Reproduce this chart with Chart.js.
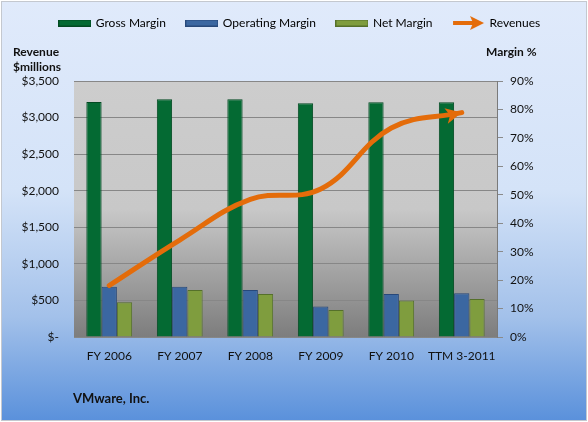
<!DOCTYPE html>
<html><head><meta charset="utf-8">
<script src="https://cdn.jsdelivr.net/npm/chart.js@4.4.1/dist/chart.umd.min.js"></script>
<style>html,body{margin:0;padding:0;background:#fff}</style>
</head><body>
<canvas id="c" width="588" height="422" style="width:588px;height:422px;display:block"></canvas>
<script>
const categories = ['FY 2006', 'FY 2007', 'FY 2008', 'FY 2009', 'FY 2010', 'TTM 3-2011'];
const grossMargin = [82.6, 83.6, 83.6, 82.2, 82.5, 82.5];
const operatingMargin = [17.7, 17.7, 16.5, 10.7, 15.1, 15.4];
const netMargin = [12.2, 16.5, 15.1, 9.5, 12.8, 13.4];
const revenues = [704, 1326, 1881, 2024, 2857, 3068];
const revenueAxis = { min: 0, max: 3500, step: 500 };
const marginAxis = { min: 0, max: 90, step: 10 };
const seriesNames = ['Gross Margin', 'Operating Margin', 'Net Margin', 'Revenues'];

const FONT = 'Lato, "Open Sans", sans-serif';
const COL = {
  gross: ['#046a33', '#024a22'],
  oper: ['#3b67a1', '#27487a'],
  net: ['#7f9d3e', '#55702a'],
  rev: '#e46c0a'
};

function swatch(fill, stroke) {
  const c = document.createElement('canvas');
  c.width = 33; c.height = 7;
  const x = c.getContext('2d');
  x.fillStyle = fill; x.fillRect(0, 0, 33, 7);
  x.strokeStyle = stroke; x.lineWidth = 1; x.strokeRect(0.5, 0.5, 32, 6);
  return c;
}
function arrowIcon(color) {
  const c = document.createElement('canvas');
  c.width = 33; c.height = 16;
  const x = c.getContext('2d');
  x.strokeStyle = color; x.lineWidth = 4;
  x.beginPath(); x.moveTo(1, 8); x.lineTo(22, 8); x.stroke();
  x.fillStyle = color;
  x.beginPath(); x.moveTo(18, 1); x.lineTo(32, 8); x.lineTo(18, 15); x.lineTo(21, 8); x.closePath(); x.fill();
  return c;
}
const legendIcons = [swatch(COL.gross[0], COL.gross[1]), swatch(COL.oper[0], COL.oper[1]), swatch(COL.net[0], COL.net[1]), arrowIcon(COL.rev)];

const decor = {
  id: 'decor',
  beforeLayout(chart) {
    if (chart.legend && !chart.legend._wrapped) {
      const orig = chart.legend.fit.bind(chart.legend);
      chart.legend.fit = function () { orig(); this.height = 85; };
      chart.legend._wrapped = true;
    }
  },
  afterLayout(chart) {
    if (chart.legend) { chart.legend.left += 6; chart.legend.right += 6; }
  },
  beforeDraw(chart) {
    const ctx = chart.ctx, W = chart.width, H = chart.height, a = chart.chartArea;
    ctx.save();
    ctx.fillStyle = '#ffffff'; ctx.fillRect(0, 0, W, H);
    const g = ctx.createLinearGradient(0, 0, 0, H);
    g.addColorStop(0, '#e0eafb');
    g.addColorStop(0.45, '#d4e3f8');
    g.addColorStop(0.75, '#a3c1ea');
    g.addColorStop(1, '#5990db');
    ctx.fillStyle = g; ctx.fillRect(2, 2, W - 4, H - 4);
    ctx.strokeStyle = '#c4c8cf'; ctx.lineWidth = 1; ctx.strokeRect(1.5, 1.5, W - 3, H - 3);
    const p = ctx.createLinearGradient(0, a.top, 0, a.bottom);
    p.addColorStop(0, '#cdcdcd');
    p.addColorStop(0.5, '#c8c8c8');
    p.addColorStop(1, '#7d7d7d');
    ctx.fillStyle = p; ctx.fillRect(a.left, a.top, a.right - a.left, a.bottom - a.top);
    ctx.restore();
  },
  afterDatasetsDraw(chart) {
    const meta = chart.getDatasetMeta(3);
    const pts = meta.data;
    if (!pts.length) return;
    const last = pts[pts.length - 1];
    const px = last.cp1x !== undefined ? last.cp1x : pts[pts.length - 2].x;
    const py = last.cp1y !== undefined ? last.cp1y : pts[pts.length - 2].y;
    const ang = Math.atan2(last.y - py, last.x - px);
    const ctx = chart.ctx;
    ctx.save();
    ctx.translate(last.x, last.y);
    ctx.rotate(ang);
    ctx.fillStyle = COL.rev;
    ctx.beginPath();
    ctx.moveTo(0, 0); ctx.lineTo(-16, -8); ctx.lineTo(-12, 0); ctx.lineTo(-16, 8); ctx.closePath();
    ctx.fill();
    ctx.restore();
  },
  afterDraw(chart) {
    const ctx = chart.ctx;
    ctx.save();
    ctx.fillStyle = '#111';
    ctx.textBaseline = 'middle';
    ctx.font = 'bold 12px ' + FONT;
    ctx.textAlign = 'left';
    ctx.fillText('Revenue', 13, 52);
    ctx.fillText('$millions', 13, 67);
    ctx.fillText('Margin %', 486, 52);
    ctx.font = 'bold 13px ' + FONT;
    ctx.fillText('VMware, Inc.', 73, 399);
    ctx.restore();
  }
};

new Chart(document.getElementById('c'), {
  data: {
    labels: categories,
    datasets: [
      { type: 'bar', label: seriesNames[0], data: grossMargin, yAxisID: 'y1', backgroundColor: COL.gross[0], borderColor: COL.gross[1], borderWidth: 1, order: 1 },
      { type: 'bar', label: seriesNames[1], data: operatingMargin, yAxisID: 'y1', backgroundColor: COL.oper[0], borderColor: COL.oper[1], borderWidth: 1, order: 1 },
      { type: 'bar', label: seriesNames[2], data: netMargin, yAxisID: 'y1', backgroundColor: COL.net[0], borderColor: COL.net[1], borderWidth: 1, order: 1 },
      { type: 'line', label: seriesNames[3], data: revenues, yAxisID: 'y', borderColor: COL.rev, borderWidth: 5, tension: 0.4, pointRadius: 0, borderCapStyle: 'round', fill: false, order: 0 }
    ]
  },
  options: {
    responsive: false,
    animation: false,
    devicePixelRatio: 1,
    layout: { padding: { top: -4, left: 0, right: 0, bottom: 0 } },
    datasets: { bar: { categoryPercentage: 0.65, barPercentage: 1.0 } },
    plugins: {
      tooltip: { enabled: false },
      legend: {
        position: 'top',
        labels: {
          usePointStyle: true,
          pointStyleWidth: 30,
          padding: 21,
          color: '#111',
          font: { family: FONT, size: 12 },
          generateLabels: () => seriesNames.map((n, i) => ({ text: n, pointStyle: legendIcons[i], datasetIndex: i, hidden: false, fillStyle: 'transparent', strokeStyle: 'transparent', lineWidth: 0 }))
        }
      }
    },
    scales: {
      x: {
        grid: { display: false, drawTicks: false },
        border: { display: false },
        ticks: { color: '#111', font: { family: FONT, size: 12 }, padding: 12, maxRotation: 0, autoSkip: false },
        afterFit(s) { s.height = 85; }
      },
      y: {
        position: 'left',
        min: revenueAxis.min, max: revenueAxis.max,
        grid: { color: '#878787', drawTicks: false },
        border: { display: false },
        ticks: { stepSize: revenueAxis.step, padding: 15, color: '#111', font: { family: FONT, size: 12 },
          callback: v => v === 0 ? '$-' : '$' + v.toLocaleString('en-US') },
        afterFit(s) { s.width = 74; }
      },
      y1: {
        position: 'right',
        min: marginAxis.min, max: marginAxis.max,
        grid: { drawOnChartArea: false, drawTicks: true, tickLength: 6, color: '#8a8a8a' },
        border: { display: true, color: '#7a7a7a' },
        ticks: { stepSize: marginAxis.step, padding: 7, color: '#111', font: { family: FONT, size: 12 },
          callback: v => v + '%' },
        afterFit(s) { s.width = 91; }
      }
    }
  },
  plugins: [decor]
});
</script>
</body></html>
